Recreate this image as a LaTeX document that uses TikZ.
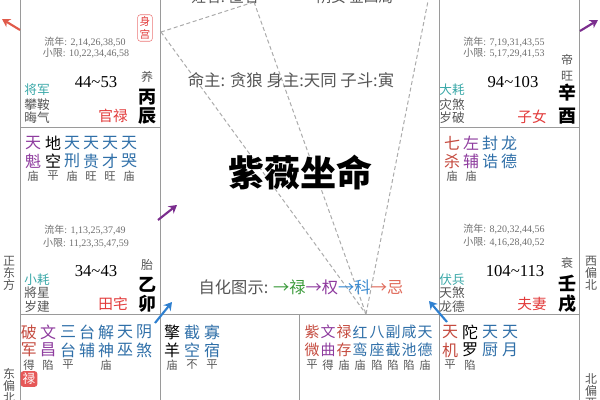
\documentclass[tikz,border=0pt]{standalone}
\usepackage{fontspec}
\setmainfont{Liberation Serif}
\newfontfamily\cjk{Noto Sans CJK SC}
\usetikzlibrary{arrows.meta}
\definecolor{gridc}{HTML}{9A9A9A}
\definecolor{dashc}{HTML}{ABABAB}
\definecolor{sred}{HTML}{C44A3E}
\definecolor{spur}{HTML}{8E3C9E}
\definecolor{sblu}{HTML}{2F6FA8}
\definecolor{steal}{HTML}{3AA8A8}
\definecolor{palr}{HTML}{E23B3B}
\definecolor{txtg}{HTML}{555555}
\definecolor{lgray}{HTML}{6E6E6E}
\definecolor{arred}{HTML}{E05A4A}
\definecolor{arpur}{HTML}{7B2D8E}
\definecolor{arblu}{HTML}{2F80D0}
\definecolor{hgreen}{HTML}{3A9A3A}
\definecolor{hpur}{HTML}{8E3A9E}
\definecolor{hblu}{HTML}{3A8AD0}
\definecolor{hred}{HTML}{E06A5A}
\newcommand\xing[7]{%
 \node[st,text=#4] (#1a) at (#2,#3) {#5};
 \node[st,text=#4] (#1b) at (#2,#3+18) {#6};
 \node[br] (#1c) at (#2,#3+33) {#7};}
\begin{document}
\begin{tikzpicture}[x=0.75pt,y=-0.75pt,
  grid/.style={draw=gridc,line width=0.75pt},
  dline/.style={draw=dashc,line width=0.75pt,dash pattern=on 3pt off 2pt},
  st/.style={inner sep=0,font=\cjk\fontsize{12}{12}\selectfont},
  br/.style={inner sep=0,text=txtg,font=\cjk\fontsize{8.5}{9}\selectfont},
  ln/.style={inner sep=0,text=lgray,font=\fontsize{7.5}{8}\selectfont},
  age/.style={inner sep=0,font=\fontsize{12.5}{13}\selectfont},
  gz/.style={inner sep=0,font=\cjk\bfseries\fontsize{13.5}{14}\selectfont},
  cs/.style={inner sep=0,text=txtg,font=\cjk\fontsize{9}{9}\selectfont},
  god/.style={inner sep=0,text=txtg,font=\cjk\fontsize{9.5}{10}\selectfont},
  pal/.style={inner sep=0,text=palr,font=\cjk\fontsize{11}{11}\selectfont},
  dir/.style={inner sep=0,text=txtg,font=\cjk\fontsize{9}{9}\selectfont},
  arr/.style={line width=1.6pt,-{Stealth[length=6pt,width=7pt]}}]
\useasboundingbox (0,0) rectangle (600,400);
\clip (0,0) rectangle (600,400);
% grid
\draw[grid] (20,-5) -- (20,405);
\draw[grid] (160,-5) -- (160,405);
\draw[grid] (439,-5) -- (439,405);
\draw[grid] (579,-5) -- (579,405);
\draw[grid] (20,127) -- (160,127);
\draw[grid] (439,127) -- (579,127);
\draw[grid] (20,314) -- (579,314);
\draw[grid] (299,314) -- (299,405);
% dashed lines
\coordinate (A) at (161,32);
\coordinate (B) at (254,2);
\coordinate (C) at (429,-4);
\coordinate (P) at (366,314);
\draw[dline] (A) -- (B);
\draw[dline] (A) -- (P);
\draw[dline] (B) -- (P);
\draw[dline] (C) -- (P);
% centre
\node[inner sep=0,text=txtg,font=\cjk\fontsize{11}{11}\selectfont] (nm) at (225,-3) {姓名: 匿名};
\node[inner sep=0,text=txtg,font=\cjk\fontsize{11}{11}\selectfont] (yn) at (355,-3) {阴女 金四局};
\node[inner sep=0,text=txtg,font=\cjk\fontsize{12.3}{13}\selectfont] (mz) at (291,80) {命主: 贪狼 身主:天同 子斗:寅};
\node[inner sep=0,font=\cjk\bfseries\fontsize{27}{27}\selectfont] (title) at (300,173) {紫薇坐命};
\node[inner sep=0,font=\cjk\fontsize{12.2}{13}\selectfont] (zh) at (301,287) {\textcolor{txtg}{自化图示: }\textcolor{hgreen}{→禄}\textcolor{hpur}{→权}\textcolor{hblu}{→科}\textcolor{hred}{→忌}};
% top-left cell
\node[draw=palr!70,rounded corners=2pt,text=palr,inner sep=1.5pt,align=center,font=\cjk\fontsize{8}{9.5}\selectfont] (sg) at (145,28) {身\\宫};
\node[ln] (ln1) at (85,42) {{\cjk 流年}: 2,14,26,38,50};
\node[ln] (xx1) at (86,53) {{\cjk 小限}: 10,22,34,46,58};
\node[age] (ag1) at (96,82) {44\textasciitilde53};
\node[cs] (cs1) at (147,77) {养};
\node[gz] (g1a) at (147,97) {丙};
\node[gz] (g1b) at (147,116) {辰};
\node[god,text=steal] (d1a) at (37,90) {将军};
\node[god] (d1b) at (37,105) {攀鞍};
\node[god] (d1c) at (37,118) {晦气};
\node[pal] (p1) at (113,116) {官禄};
% top-right cell
\node[ln] (ln2) at (504,42) {{\cjk 流年}: 7,19,31,43,55};
\node[ln] (xx2) at (504,53) {{\cjk 小限}: 5,17,29,41,53};
\node[age] (ag2) at (513,82) {94\textasciitilde103};
\node[cs] (cs2a) at (567,60) {帝};
\node[cs] (cs2b) at (567,76) {旺};
\node[gz] (g2a) at (567,93) {辛};
\node[gz] (g2b) at (567,116) {酉};
\node[god,text=steal] (d2a) at (452,90) {大耗};
\node[god] (d2b) at (452,105) {灾煞};
\node[god] (d2c) at (452,118) {岁破};
\node[pal] (p2) at (532,117) {子女};
% left-middle cell
\xing{m1}{33}{143}{spur}{天}{魁}{庙}
\xing{m2}{53}{143}{black}{地}{空}{平}
\xing{m3}{72}{143}{sblu}{天}{刑}{庙}
\xing{m4}{91}{143}{sblu}{天}{贵}{旺}
\xing{m5}{110}{143}{sblu}{天}{才}{旺}
\xing{m6}{129}{143}{sblu}{天}{哭}{庙}
\node[ln] (ln3) at (85,230) {{\cjk 流年}: 1,13,25,37,49};
\node[ln] (xx3) at (86,243) {{\cjk 小限}: 11,23,35,47,59};
\node[age] (ag3) at (96,271) {34\textasciitilde43};
\node[cs] (cs3) at (147,265) {胎};
\node[gz] (g3a) at (147,285) {乙};
\node[gz] (g3b) at (147,304) {卯};
\node[god,text=steal] (d3a) at (37,280) {小耗};
\node[god] (d3b) at (37,293) {將星};
\node[god] (d3c) at (37,307) {岁建};
\node[pal] (p3) at (113,304) {田宅};
% right-middle cell
\xing{r1}{452}{143}{sred}{七}{杀}{庙}
\xing{r2}{471}{143}{spur}{左}{辅}{庙}
\xing{r3}{490}{143}{sblu}{封}{诰}{}
\xing{r4}{509}{143}{sblu}{龙}{德}{}
\node[ln] (ln4) at (504,229) {{\cjk 流年}: 8,20,32,44,56};
\node[ln] (xx4) at (504,242) {{\cjk 小限}: 4,16,28,40,52};
\node[age] (ag4) at (515,271) {104\textasciitilde113};
\node[cs] (cs4) at (567,263) {衰};
\node[gz] (g4a) at (567,283) {壬};
\node[gz] (g4b) at (567,304) {戌};
\node[god,text=steal] (d4a) at (452,280) {伏兵};
\node[god] (d4b) at (452,293) {天煞};
\node[god] (d4c) at (452,307) {龙德};
\node[pal] (p4) at (532,304) {夫妻};
% bottom-left cell
\xing{b1}{29}{332}{sred}{破}{军}{得}
\xing{b2}{48}{332}{spur}{文}{昌}{陷}
\xing{b3}{68}{332}{sblu}{三}{台}{平}
\xing{b4}{87}{332}{sblu}{台}{辅}{}
\xing{b5}{106}{332}{sblu}{解}{神}{庙}
\xing{b6}{125}{332}{sblu}{天}{巫}{}
\xing{b7}{144}{332}{sblu}{阴}{煞}{}
\node[fill=palr!85,rounded corners=2pt,text=white,inner sep=1.5pt,font=\cjk\fontsize{9.5}{10}\selectfont] (lu) at (29,379) {禄};
% bottom-middle-left cell
\xing{c1}{172}{332}{black}{擎}{羊}{庙}
\xing{c2}{192}{332}{sblu}{截}{空}{不}
\xing{c3}{212}{332}{sblu}{寡}{宿}{平}
% bottom-middle-right cell
\begin{scope}[st/.style={inner sep=0,font=\cjk\fontsize{11.2}{11}\selectfont}]
\xing{e1}{312}{332}{sred}{紫}{微}{平}
\xing{e2}{328}{332}{spur}{文}{曲}{得}
\xing{e3}{344}{332}{sred}{禄}{存}{庙}
\xing{e4}{360}{332}{sblu}{红}{鸾}{庙}
\xing{e5}{377}{332}{sblu}{八}{座}{陷}
\xing{e6}{393}{332}{sblu}{副}{截}{陷}
\xing{e7}{409}{332}{sblu}{咸}{池}{陷}
\xing{e8}{425}{332}{sblu}{天}{德}{庙}
\end{scope}
% bottom-right cell
\xing{f1}{450}{332}{sred}{天}{机}{平}
\xing{f2}{470}{332}{black}{陀}{罗}{陷}
\xing{f3}{490}{332}{sblu}{天}{厨}{}
\xing{f4}{510}{332}{sblu}{天}{月}{}
% direction labels
\node[dir,align=center] (dl1) at (9,273) {正\\东\\方};
\node[dir,align=center] (dl2) at (9,386) {东\\偏\\北};
\node[dir,align=center] (dl3) at (591,273) {西\\偏\\北};
\node[dir,align=center] (dl4) at (591,391) {北\\偏\\西};
% arrows
\coordinate (a1s) at (20,30); \coordinate (a1e) at (2,19);
\coordinate (a2s) at (580,31); \coordinate (a2e) at (598,20);
\coordinate (a3s) at (158,220); \coordinate (a3e) at (177,205);
\coordinate (a4s) at (155,323); \coordinate (a4e) at (172,302);
\coordinate (a5s) at (447,322); \coordinate (a5e) at (429,301);
\draw[arr,arred] (a1s) -- (a1e);
\draw[arr,arpur] (a2s) -- (a2e);
\draw[arr,arpur] (a3s) -- (a3e);
\draw[arr,arblu] (a4s) -- (a4e);
\draw[arr,arblu] (a5s) -- (a5e);
\end{tikzpicture}
\end{document}
